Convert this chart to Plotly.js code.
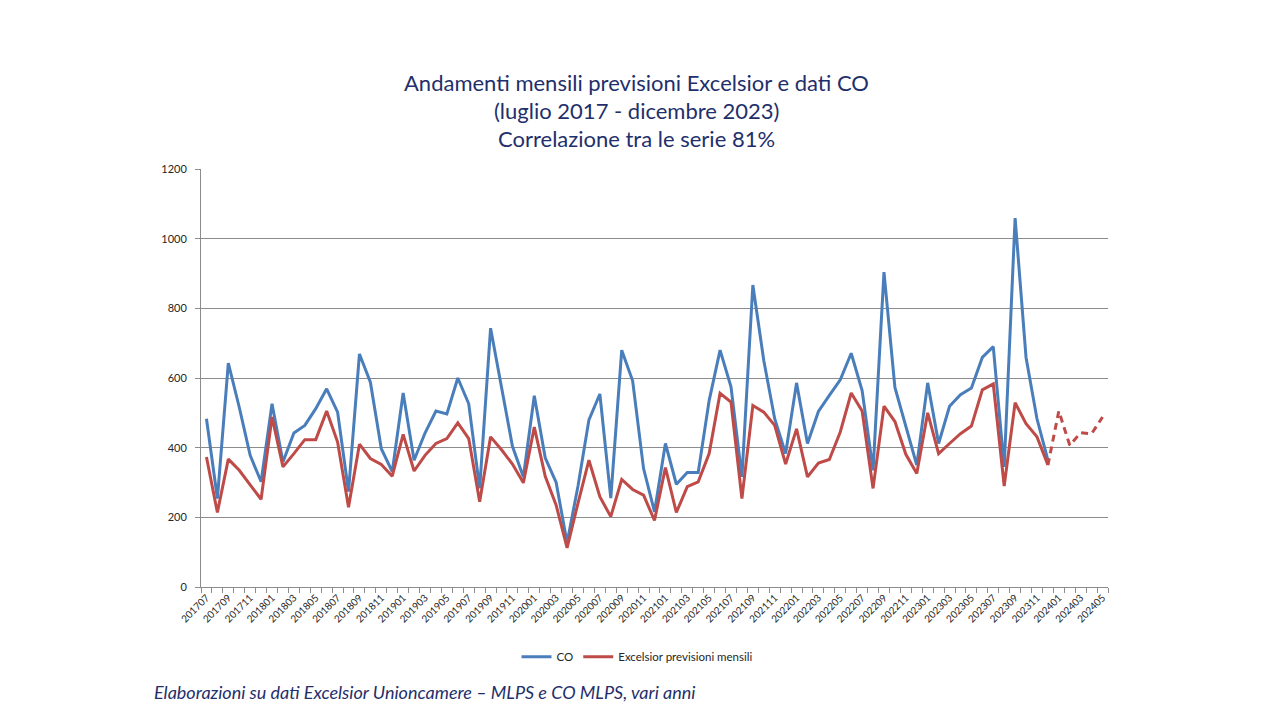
<!DOCTYPE html>
<html>
<head>
<meta charset="utf-8">
<script src="https://cdn.plot.ly/plotly-3.0.1.min.js"></script>
<style>
  html, body { margin: 0; padding: 0; background: #ffffff; }
  #chart { width: 1280px; height: 720px; }
</style>
</head>
<body>
<div id="chart"></div>
<script>
// ---- Data ----
const categories = [
  '201707','201708','201709','201710','201711','201712',
  '201801','201802','201803','201804','201805','201806','201807','201808','201809','201810','201811','201812',
  '201901','201902','201903','201904','201905','201906','201907','201908','201909','201910','201911','201912',
  '202001','202002','202003','202004','202005','202006','202007','202008','202009','202010','202011','202012',
  '202101','202102','202103','202104','202105','202106','202107','202108','202109','202110','202111','202112',
  '202201','202202','202203','202204','202205','202206','202207','202208','202209','202210','202211','202212',
  '202301','202302','202303','202304','202305','202306','202307','202308','202309','202310','202311','202312',
  '202401','202402','202403','202404','202405'
];

// CO (201707 - 202312)
const coValues = [
  483, 254, 643, 516, 378, 302,
  526, 359, 442, 464, 512, 569, 502, 274, 669, 588, 397, 331,
  557, 364, 442, 505, 497, 600, 526, 283, 743, 573, 404, 316,
  549, 371, 300, 127, 290, 480, 554, 255, 680, 592, 340, 216,
  412, 295, 329, 329, 535, 680, 575, 316, 867, 650, 483, 383,
  586, 412, 504, 550, 595, 671, 564, 335, 904, 573, 459, 350,
  586, 412, 519, 552, 571, 659, 690, 345, 1059, 659, 483, 364
];

// Excelsior previsioni mensili (201707 - 202312)
const excelsiorValues = [
  373, 214, 367, 335, 293, 252,
  488, 345, 383, 423, 423, 505, 416, 229, 410, 369, 352, 318,
  438, 333, 378, 412, 426, 471, 426, 245, 431, 394, 353, 299,
  459, 318, 235, 112, 241, 364, 259, 202, 309, 280, 264, 191,
  343, 214, 288, 302, 383, 556, 531, 254, 521, 502, 464, 353,
  454, 316, 356, 366, 445, 557, 505, 283, 519, 475, 381, 326,
  500, 383, 412, 440, 462, 566, 583, 290, 529, 469, 431, 350
];

// Excelsior forecast (dashed), 202312 - 202405
const forecastCategories = ['202312','202401','202402','202403','202404','202405'];
const forecastValues = [350, 505, 407, 443, 440, 488];

const titleLines = [
  'Andamenti mensili previsioni Excelsior e dati CO',
  '(luglio 2017 - dicembre 2023)',
  'Correlazione tra le serie 81%'
];
const sourceNote = 'Elaborazioni su dati Excelsior Unioncamere \u2013 MLPS e CO MLPS, vari anni';

// ---- Styling ----
const blue = '#4A7EBB';
const red = '#BE4B48';
const navy = '#1F2F6B';
const gridGray = '#8C8C8C';
const labelColor = '#262626';
const font = 'Lato, "Open Sans", sans-serif';

const coX = categories.slice(0, coValues.length);
const exX = categories.slice(0, excelsiorValues.length);
const tickText = categories.map((c, i) => (i % 2 === 0 ? c : ''));

const traces = [
  {
    x: coX, y: coValues, type: 'scatter', mode: 'lines', name: 'CO',
    line: { color: blue, width: 3 }
  },
  {
    x: exX, y: excelsiorValues, type: 'scatter', mode: 'lines', name: 'Excelsior previsioni mensili',
    line: { color: red, width: 3 }
  },
  {
    x: forecastCategories, y: forecastValues, type: 'scatter', mode: 'lines',
    name: 'Excelsior (previsione)', showlegend: false,
    line: { color: red, width: 3, dash: '7px,5px' }
  }
];

// plot area in pixels: x 200.7 -> 1108.3, y 169.3 -> 587.3
const W = 1280, H = 720;
const L = 200.7, R = 1108.3, T = 169.3, B = 587.3;
const px2x = p => (p - L) / (R - L);
const px2y = p => (B - p) / (B - T);

const annotations = [
  { text: titleLines[0], y: px2y(83) },
  { text: titleLines[1], y: px2y(111) },
  { text: titleLines[2], y: px2y(138.5) }
].map(a => ({
  text: a.text, xref: 'paper', yref: 'paper', x: px2x(636), y: a.y,
  xanchor: 'center', yanchor: 'middle', showarrow: false,
  font: { family: font, size: 22, color: navy }
}));

annotations.push({
  text: '<i>' + sourceNote + '</i>', xref: 'paper', yref: 'paper',
  x: px2x(152), y: px2y(692), xanchor: 'left', yanchor: 'middle', showarrow: false,
  font: { family: font, size: 18, color: navy }
});

const layout = {
  width: W, height: H,
  paper_bgcolor: '#ffffff', plot_bgcolor: '#ffffff',
  margin: { l: L, r: W - R, t: T, b: H - B, pad: 0 },
  font: { family: font, color: labelColor },
  showlegend: true,
  legend: {
    orientation: 'h', xref: 'paper', yref: 'paper',
    x: px2x(637), y: px2y(657), xanchor: 'center', yanchor: 'middle',
    font: { family: font, size: 11.5, color: labelColor },
    itemwidth: 30
  },
  xaxis: {
    type: 'category',
    categoryorder: 'array', categoryarray: categories,
    range: [-0.5, categories.length - 0.5],
    tickmode: 'array', tickvals: categories, ticktext: tickText,
    tickson: 'boundaries',
    ticks: 'outside', ticklen: 5, tickcolor: gridGray, tickwidth: 1,
    tickangle: -45,
    tickfont: { family: font, size: 10, color: labelColor },
    showline: true, linecolor: gridGray, linewidth: 1,
    showgrid: false, zeroline: false, fixedrange: true
  },
  yaxis: {
    range: [0, 1200], dtick: 200, tick0: 0,
    ticks: 'outside', ticklen: 5, tickcolor: gridGray,
    ticklabelstandoff: 6,
    tickfont: { family: font, size: 11, color: labelColor },
    showline: true, linecolor: gridGray, linewidth: 1,
    showgrid: true, gridcolor: gridGray, gridwidth: 1,
    zeroline: false, fixedrange: true
  },
  annotations: annotations
};

Plotly.newPlot('chart', traces, layout, { displayModeBar: false, staticPlot: true });
</script>
</body>
</html>
